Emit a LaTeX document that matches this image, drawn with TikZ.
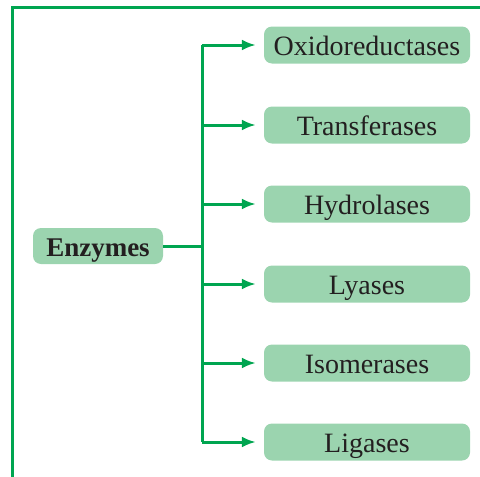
\documentclass[tikz,border=0pt]{standalone}
\usepackage{fontspec}
\setmainfont{Liberation Serif}
\usepackage{tikz}
\usetikzlibrary{arrows.meta}
\usetikzlibrary{positioning}
\definecolor{leaf}{RGB}{0,165,80}
\definecolor{pale}{RGB}{155,212,175}
\definecolor{ink}{RGB}{35,31,32}
\tikzset{box/.style = {fill=pale, rounded corners=8pt, inner sep=0,
                       minimum width=206pt, minimum height=37pt,
                       text height=20pt, text depth=0pt,
                       text=ink, font=\fontsize{28}{30}\selectfont}}
\tikzset{link/.style = {draw=leaf, line width=3pt}}
\tikzset{arr/.style = {link, -{Latex[length=14pt,width=11pt]}, shorten >=8pt}}

\begin{document}
\begin{tikzpicture}[x=1pt, y=1pt]
    \useasboundingbox (0, 0) rectangle (480, -477);
    \draw [link] (12, -477) -- (12, -7) -- (480, -7);

    \node [box, minimum width=130pt, minimum height=36pt, font=\fontsize{27}{30}\selectfont\bfseries]
        (enz) at (98, -246) {Enzymes};

    \node [box] (oxi) at (367, -45) {Oxidoreductases};
    \node [box] (tra) at (367, -125) {Transferases};
    \node [box] (hyd) at (367, -204) {Hydrolases};
    \node [box] (lya) at (367, -284) {Lyases};
    \node [box] (iso) at (367, -363) {Isomerases};
    \node [box] (lig) at (367, -442) {Ligases};

    \coordinate (fork) at (202, -246);
    \draw [link] (enz.east) -- (fork);
    \draw [link] (fork |- oxi) -- (fork |- lig);

    \draw [arr] (fork |- oxi) -- (oxi.west);
    \draw [arr] (fork |- tra) -- (tra.west);
    \draw [arr] (fork |- hyd) -- (hyd.west);
    \draw [arr] (fork |- lya) -- (lya.west);
    \draw [arr] (fork |- iso) -- (iso.west);
    \draw [arr] (fork |- lig) -- (lig.west);
  \end{tikzpicture}
\end{document}
